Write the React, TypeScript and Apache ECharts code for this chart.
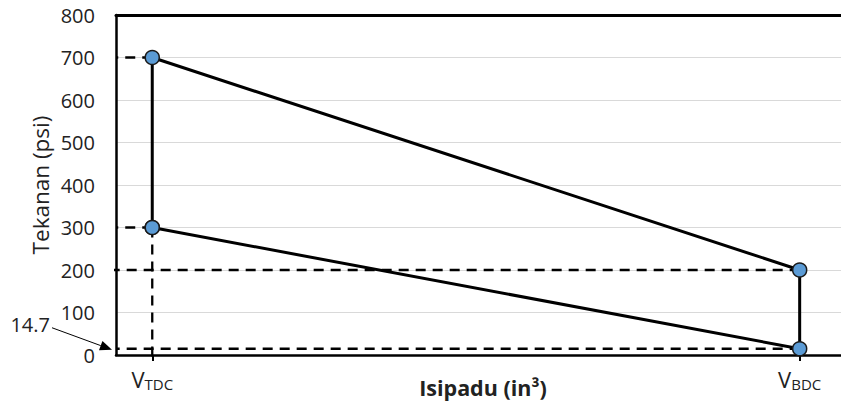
import React, { useEffect, useRef } from "react";
import * as echarts from "echarts";

// Axis ranges
const xMin = 0;
const xMax = 100;
const yMin = 0;
const yMax = 800;
const yInterval = 100;

// Named volumes on the x axis
const vTDC = 5;
const vBDC = 94.3;
const xTickValues = [vTDC, vBDC];
const xTickNames = ["TDC", "BDC"];

// Cycle points (volume, pressure)
const cycleX = [vTDC, vTDC, vBDC, vBDC, vTDC];
const cycleY = [300, 700, 200, 14.7, 300];

// Dashed guide lines
const guide700X = [vTDC, xMin];
const guide700Y = [700, 700];
const guide300X = [vTDC, xMin];
const guide300Y = [300, 300];
const guideTDCX = [vTDC, vTDC];
const guideTDCY = [300, -8];
const guide200X = [vBDC, -1.1];
const guide200Y = [200, 200];
const guide147X = [vBDC, xMin];
const guide147Y = [14.7, 14.7];

const atmPressure = 14.7;
const atmLabel = "14.7";

const FONT = "'Open Sans', 'Noto Sans', sans-serif";

const zip = (xs: number[], ys: number[]) => xs.map((x, i) => [x, ys[i]]);

const dashed = (xs: number[], ys: number[]) => ({
  type: "line",
  data: zip(xs, ys),
  symbol: "none",
  clip: false,
  silent: true,
  lineStyle: { color: "#000", width: 2.3, type: [10, 7] },
  z: 3,
});

export default function App() {
  const ref = useRef<HTMLDivElement>(null);
  useEffect(() => {
    if (!ref.current) return;
    const chart = echarts.init(ref.current, undefined, { renderer: "svg" });
    chart.setOption({
      animation: false,
      backgroundColor: "#fff",
      grid: {
        left: 116,
        right: 0,
        top: 15,
        bottom: 46,
        containLabel: false,
        outerBoundsMode: "none",
      },
      xAxis: [
        {
          type: "value",
          min: xMin,
          max: xMax,
          name: "Isipadu (in³)",
          nameLocation: "middle",
          nameGap: 21,
          nameMoveOverlap: false,
          nameTextStyle: {
            fontFamily: FONT,
            fontSize: 21.5,
            fontWeight: "bold",
            color: "#222",
            padding: [0, 0, 0, 9],
          },
          axisLine: { show: true, lineStyle: { color: "#000", width: 2.5 } },
          splitLine: { show: false },
          axisTick: {
            show: true,
            customValues: xTickValues,
            length: 6,
            lineStyle: { color: "#000", width: 2 },
          },
          axisLabel: {
            customValues: xTickValues,
            margin: 12,
            formatter: (v: number) => {
              const i = xTickValues.indexOf(v);
              return `{v|V}{s|${i >= 0 ? xTickNames[i] : ""}}`;
            },
            rich: {
              v: { fontFamily: FONT, fontSize: 22, color: "#222" },
              s: { fontFamily: FONT, fontSize: 15, color: "#222", padding: [9, 0, 0, 0] },
            },
          },
        },
        {
          type: "value",
          position: "top",
          min: xMin,
          max: xMax,
          axisLine: { show: true, lineStyle: { color: "#000", width: 3 } },
          axisTick: { show: false },
          axisLabel: { show: false },
          splitLine: { show: false },
        },
      ],
      yAxis: {
        type: "value",
        min: yMin,
        max: yMax,
        interval: yInterval,
        name: "Tekanan (psi)",
        nameLocation: "middle",
        nameGap: 64,
        nameMoveOverlap: false,
        nameTextStyle: { fontFamily: FONT, fontSize: 22.5, color: "#222" },
        axisLine: { show: true, lineStyle: { color: "#000", width: 2.5 } },
        axisTick: { show: false },
        axisLabel: { fontFamily: FONT, fontSize: 20, color: "#222", margin: 21 },
        splitLine: { show: true, lineStyle: { color: "#d9d9d9", width: 1 } },
      },
      series: [
        dashed(guide700X, guide700Y),
        dashed(guide300X, guide300Y),
        dashed(guideTDCX, guideTDCY),
        dashed(guide200X, guide200Y),
        dashed(guide147X, guide147Y),
        {
          type: "line",
          data: zip(cycleX, cycleY),
          clip: false,
          symbol: "circle",
          symbolSize: 14,
          lineStyle: { color: "#000", width: 3 },
          itemStyle: { color: "#5b9bd5", borderColor: "#1a1a1a", borderWidth: 1.5 },
          z: 5,
        },
      ],
    });

    const tip = chart.convertToPixel({ gridIndex: 0 }, [xMin, atmPressure]) as number[];
    const tipX = tip[0] - 4;
    const tipY = tip[1] + 1;
    const startX = tipX - 60;
    const startY = tipY - 22;
    const ang = Math.atan2(tipY - startY, tipX - startX);
    const hl = 12;
    const hw = 5;
    const bx = tipX - hl * Math.cos(ang);
    const by = tipY - hl * Math.sin(ang);
    const px = -Math.sin(ang) * hw;
    const py = Math.cos(ang) * hw;
    chart.setOption({
      graphic: [
        {
          type: "line",
          shape: { x1: startX, y1: startY, x2: bx, y2: by },
          style: { stroke: "#000", lineWidth: 1 },
          z: 10,
        },
        {
          type: "polygon",
          shape: { points: [[tipX, tipY], [bx + px, by + py], [bx - px, by - py]] },
          style: { fill: "#000" },
          z: 10,
        },
        {
          type: "text",
          x: startX - 2,
          y: startY - 3,
          style: {
            text: atmLabel,
            fontFamily: FONT,
            fontSize: 20,
            fill: "#222",
            align: "right",
            verticalAlign: "middle",
          },
          z: 10,
        },
      ],
    });

    return () => chart.dispose();
  }, []);
  return (
    <div
      ref={ref}
      style={{ position: "fixed", left: 0, top: 0, width: 841, height: 401 }}
    />
  );
}
